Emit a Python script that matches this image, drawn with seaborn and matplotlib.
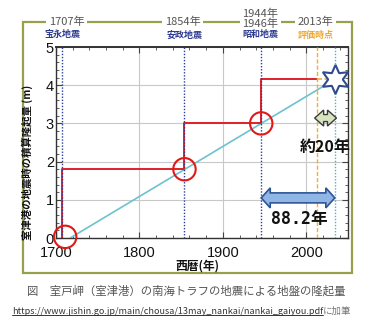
import matplotlib
matplotlib.use("Agg")
import numpy as np
import pandas as pd
import matplotlib.pyplot as plt
import seaborn as sns
from matplotlib.patches import Rectangle, Polygon
from matplotlib.lines import Line2D
from matplotlib.ticker import MultipleLocator
from matplotlib.transforms import blended_transform_factory

# ---------------- data ----------------
quake_years = [1707, 1854, 1946]
quake_names = ["宝永地震", "安政地震", "昭和地震"]
header_labels = ["1707年", "1854年", "1944年\n1946年", "2013年"]
cum_uplift = [1.8, 3.0, 4.15]
eval_year = 2013
eval_name = "評価時点"
next_year = 2034.2
trend_years = [1717, 2050]
trend_uplift = [0.0, 4.36]
circle_years = [1711, 1854, 1946]
circle_uplift = [0.03, 1.8, 3.0]
interval_label = "88.2年"
remaining_label = "約20年"
xticks = [1700, 1800, 1900, 2000]
yticks = [0, 1, 2, 3, 4, 5]
xlabel = "西暦(年)"
ylabel = "室津港の地震時の積算隆起量 (m)"
caption = "図　室戸岬（室津港）の南海トラフの地震による地盤の隆起量"
source_url = "https://www.jishin.go.jp/main/chousa/13may_nankai/nankai_gaiyou.pdf"
source_note = "に加筆"

# ---------------- style ----------------
sns.set_theme(style="white")
plt.rcParams['font.family'] = ['Liberation Sans', 'Noto Sans CJK JP']
CJK = ['Noto Sans CJK JP', 'Liberation Sans']

W, H = 370, 324
fig = plt.figure(figsize=(W / 100, H / 100), dpi=100)
ax = fig.add_axes([56 / W, 1 - 238 / H, 292 / W, 191 / H])

# step path of cumulative uplift
step_x, step_y = [quake_years[0]], [0.0]
for i, yr in enumerate(quake_years):
    nxt = quake_years[i + 1] if i + 1 < len(quake_years) else eval_year
    step_x += [yr, nxt]
    step_y += [cum_uplift[i], cum_uplift[i]]
step_df = pd.DataFrame({"year": step_x, "uplift": step_y})
trend_df = pd.DataFrame({"year": trend_years, "uplift": trend_uplift})

ax.set_xlim(1700, 2050)
ax.set_ylim(0, 5)

# grid
ax.set_xticks(xticks)
ax.set_yticks(yticks)
ax.grid(True, which='major', color='#c8c8c8', lw=0.8)
ax.set_axisbelow(True)

# trend line
sns.lineplot(data=trend_df, x="year", y="uplift", ax=ax, color='#6cc3cf', lw=1.2,
             estimator=None, sort=False, zorder=3)
# step line
sns.lineplot(data=step_df, x="year", y="uplift", ax=ax, color='#e0202a', lw=1.4,
             estimator=None, sort=False, zorder=4)

# vertical event lines
for yr in quake_years:
    ax.axvline(yr, color='#2a3f9a', lw=1.0, ls=(0, (1, 1.2)), zorder=5)
ax.axvline(eval_year, color='#f0b030', lw=1.0, ls=(0, (3, 1.5)), zorder=5)
ax.axvline(next_year, color='#49b5c6', lw=1.0, ls=(0, (1, 1.2)), zorder=5)

# orange dashed horizontal to the next event
ax.plot([eval_year, next_year], [cum_uplift[-1], cum_uplift[-1]], color='#f0b030',
        lw=1.2, ls=(0, (3, 1.5)), zorder=5)

# circles
sns.scatterplot(x=circle_years, y=circle_uplift, ax=ax, s=260, facecolor='none',
                edgecolor='#e01818', linewidth=1.5, zorder=6, clip_on=False)
# star
ax.plot([next_year], [cum_uplift[-1]], marker=(6, 1, 0), ms=21, mfc='white',
        mec='#2f4b8c', mew=1.5, zorder=7, clip_on=False)

# ticks
ax.xaxis.set_minor_locator(MultipleLocator(20))
ax.yaxis.set_minor_locator(MultipleLocator(0.2))
ax.tick_params(which='both', direction='in', top=True, right=True, bottom=True, left=True,
               color='#444444')
ax.tick_params(which='major', length=4, width=0.8, labelsize=10.5, labelcolor='#111111')
ax.tick_params(axis='x', which='major', pad=5.5)
ax.tick_params(axis='y', which='major', pad=1.5)
ax.tick_params(which='minor', length=2, width=0.6)
for s in ax.spines.values():
    s.set_color('#333333')
    s.set_linewidth(1.0)
ax.spines['top'].set_linewidth(1.4)

ax.set_xlabel("")
ax.set_ylabel("")
fig.text(197 / W, 1 - 266 / H, xlabel, ha='center', va='center', fontsize=8.5,
         fontweight='bold', family=CJK, color='#111111')
fig.text(27 / W, 1 - 162 / H, ylabel, rotation=90, ha='center', va='center',
         fontsize=7.5, fontweight='bold', family=CJK, color='#111111')


def double_arrow(x0, x1, y, hl, hh, bh, **kw):
    p0 = ax.transData.transform((x0, y))
    p1 = ax.transData.transform((x1, y))
    xa, ya = p0
    xb = p1[0]
    pts = [(xa, ya), (xa + hl, ya + hh), (xa + hl, ya + bh), (xb - hl, ya + bh),
           (xb - hl, ya + hh), (xb, ya), (xb - hl, ya - hh), (xb - hl, ya - bh),
           (xa + hl, ya - bh), (xa + hl, ya - hh)]
    pts = ax.transData.inverted().transform(pts)
    ax.add_patch(Polygon(pts, closed=True, clip_on=False, zorder=8, **kw))


# 88.2 year arrow
double_arrow(quake_years[-1], next_year, 1.05, 9, 10, 5,
             facecolor='#8fb6e4', edgecolor='#2f5597', lw=1.2)
ax.text((quake_years[-1] + next_year) / 2 + 1, 0.5, interval_label, ha='center', va='center',
        fontsize=12, fontweight='bold', family=['DejaVu Sans Mono', 'Noto Sans CJK JP'],
        color='#111111', zorder=9)
# ~20 year arrow
double_arrow(eval_year - 3, next_year + 2, 3.14, 9, 8, 3.5,
             facecolor='#d7e4bd', edgecolor='#3a3a3a', lw=1.0)
ax.text((eval_year + next_year) / 2 - 1, 2.38, remaining_label, ha='center', va='center',
        fontsize=11.5, fontweight='bold', family=CJK, color='#111111', zorder=9)

# ---------------- frame & header ----------------
fx0, fx1 = 22.7 / W, 352 / W
fy0, fy1 = 1 - 273 / H, 1 - 21.7 / H
fig.add_artist(Rectangle((fx0, fy0), fx1 - fx0, fy1 - fy0, transform=fig.transFigure,
                         fill=False, edgecolor='#98a04c', lw=1.6, zorder=1))

bt = blended_transform_factory(ax.transData, fig.transFigure)
header_x = quake_years + [eval_year]
header_off = [6, -2, -1, -2]
for i, (xh, lab) in enumerate(zip(header_x, header_labels)):
    yy = fy1 if "\n" not in lab else 1 - 18.5 / H
    fig.text(xh + header_off[i], yy, lab, transform=bt, ha='center', va='center',
             fontsize=8, color='#555555', family=CJK, linespacing=0.95,
             bbox=dict(boxstyle='square,pad=0.25', facecolor='white', edgecolor='none'),
             zorder=2)
name_off = [1, 0, -1]
for i, (xh, nm) in enumerate(zip(quake_years, quake_names)):
    fig.text(xh + name_off[i], 1 - 35 / H, nm, transform=bt, ha='center', va='center',
             fontsize=6.5, fontweight='bold', color='#2b3990', family=CJK)
fig.text(eval_year - 2, 1 - 35 / H, eval_name, transform=bt, ha='center', va='center',
         fontsize=6.5, fontweight='bold', color='#f0a830', family=CJK)

# ---------------- caption ----------------
fig.text(186 / W, 1 - 291 / H, caption, ha='center', va='center', fontsize=8.2,
         color='#555555', family=CJK)
t_url = fig.text(12 / W, 1 - 311 / H, source_url, ha='left', va='center', fontsize=6.5,
                 color='#333333', family=CJK)
fig.canvas.draw()
bb = t_url.get_window_extent()
fig.add_artist(Line2D([bb.x0 / W, bb.x1 / W], [(bb.y0 + 1) / H, (bb.y0 + 1) / H],
                      transform=fig.transFigure, color='#333333', lw=0.7))
fig.text(bb.x1 / W, 1 - 311 / H, source_note, ha='left', va='center', fontsize=6.8,
         color='#777777', family=CJK)

fig.savefig("out.png", dpi=100)
